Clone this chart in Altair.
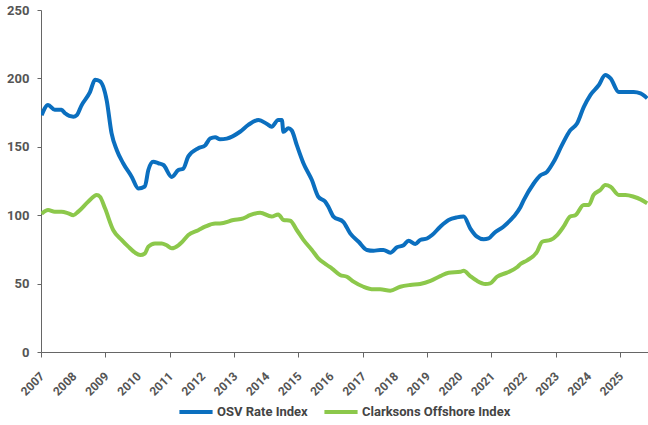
import altair as alt
import pandas as pd

# OSV Rate Index
osv_dates = [
    "2007-01-08", "2007-03-22", "2007-06-06", "2007-08-22", "2007-10-01",
    "2008-01-04", "2008-02-10", "2008-04-07", "2008-07-10", "2008-09-06",
    "2008-11-01", "2009-01-16", "2009-03-12", "2009-05-10", "2009-07-22",
    "2009-10-28", "2010-01-10", "2010-03-25", "2010-05-04", "2010-06-28",
    "2010-08-25", "2010-10-22", "2011-01-25", "2011-04-10", "2011-06-04",
    "2011-08-01", "2011-11-22", "2012-02-07", "2012-04-04", "2012-06-01",
    "2012-07-25", "2012-10-10", "2013-03-10", "2013-06-12", "2013-10-04",
    "2014-01-10", "2014-03-04", "2014-05-18", "2014-06-28", "2014-07-16",
    "2014-09-10", "2014-10-18", "2014-12-16", "2015-02-28", "2015-06-04",
    "2015-08-16", "2015-11-01", "2015-12-10", "2016-02-04", "2016-05-28",
    "2016-08-12", "2016-11-16", "2017-02-18", "2017-05-04", "2017-07-18",
    "2017-08-25", "2017-11-10", "2018-01-25", "2018-04-10", "2018-06-06",
    "2018-08-22", "2018-10-16", "2019-01-01", "2019-02-28", "2019-06-01",
    "2019-09-04", "2019-12-06", "2020-02-22", "2020-05-06", "2020-07-22",
    "2020-10-06", "2020-12-01", "2021-01-28", "2021-05-18", "2021-09-12",
    "2021-11-28", "2022-01-04", "2022-04-25", "2022-07-10", "2022-09-25",
    "2022-12-10", "2023-03-12", "2023-06-15", "2023-09-01", "2023-11-16",
    "2024-02-01", "2024-05-04", "2024-07-18", "2024-09-16", "2024-12-18",
    "2025-03-04", "2025-06-06", "2025-08-22", "2025-11-06",
]
osv_values = [
    173, 180.5, 177, 177, 174.5,
    172, 173, 180.5, 190, 199,
    198, 184, 160, 147.7, 138,
    128, 119.6, 121, 133, 139,
    138, 136.7, 128, 133, 134,
    143, 149, 151, 156, 157,
    155.5, 156, 161, 166, 169.6,
    166.7, 164.7, 169.6, 169.6, 161,
    163.5, 162, 151, 138, 125.7,
    113.5, 110, 106, 99, 95,
    86.7, 80.6, 74.6, 74, 74.6,
    74.6, 72.6, 76.5, 78, 81.4,
    79, 81.9, 83, 85.5, 91.6,
    96.5, 98.4, 99, 90.4, 84.3,
    82.4, 83, 86.7, 91.6, 99,
    106, 111, 123, 129, 131.7,
    139, 151, 162, 167, 179,
    188, 195, 202.5, 200, 190,
    190, 190, 189, 185.4,
]

# Clarksons Offshore Index
cok_dates = [
    "2007-01-08", "2007-03-22", "2007-06-06", "2007-08-22", "2007-11-06",
    "2008-01-04", "2008-02-28", "2008-06-22", "2008-09-25", "2008-11-01",
    "2008-12-28", "2009-04-01", "2009-07-04", "2009-09-18", "2009-12-04",
    "2010-02-01", "2010-03-25", "2010-05-04", "2010-07-18", "2010-10-04",
    "2010-11-28", "2011-01-25", "2011-04-10", "2011-05-16", "2011-08-01",
    "2011-11-22", "2012-02-07", "2012-06-01", "2012-07-25", "2012-12-25",
    "2013-04-16", "2013-07-01", "2013-10-25", "2014-03-04", "2014-05-18",
    "2014-07-16", "2014-10-01", "2014-12-16", "2015-02-28", "2015-06-04",
    "2015-08-16", "2015-11-22", "2016-01-19", "2016-04-19", "2016-07-06",
    "2016-09-19", "2017-01-10", "2017-05-04", "2017-07-18", "2017-11-10",
    "2018-03-04", "2018-06-25", "2018-10-16", "2019-02-10", "2019-06-01",
    "2019-09-04", "2020-01-16", "2020-02-22", "2020-05-06", "2020-07-22",
    "2020-10-25", "2020-12-19", "2021-03-06", "2021-06-28", "2021-10-19",
    "2021-11-28", "2022-02-12", "2022-06-04", "2022-08-01", "2022-11-04",
    "2023-01-18", "2023-04-01", "2023-06-15", "2023-08-13", "2023-11-16",
    "2024-01-13", "2024-03-07", "2024-05-22", "2024-07-18", "2024-09-16",
    "2024-12-18", "2025-03-04", "2025-06-06", "2025-08-22", "2025-11-06",
]
cok_values = [
    101, 103.8, 102.6, 102.6, 101.4,
    100, 102.6, 110, 114.8, 113.5,
    105, 89, 82, 77, 72.6,
    70.9, 72, 77, 79.4, 79.4,
    78, 75.8, 78, 80, 85.5,
    89, 91.6, 94, 94, 96.5,
    97.7, 100, 101.8, 99, 100.6,
    96.5, 96, 89, 82, 74.6,
    68.5, 63.6, 61, 56.3, 55,
    51.4, 47.7, 45.8, 45.8, 44.8,
    47.7, 49, 49.7, 52, 55.5,
    58, 58.7, 59.4, 55.5, 52,
    49.7, 50.2, 55, 58, 61.9,
    64.3, 67, 73.3, 80.6, 81.9,
    85.5, 91.6, 99, 100, 107.5,
    107.5, 114.8, 118.4, 122, 120.8,
    114.8, 114.8, 113.5, 111.6, 108.7,
]

# Year ticks along the time axis
year_ticks = [f"{y}-01-01" for y in range(2007, 2026)]

series_names = ["OSV Rate Index", "Clarksons Offshore Index"]
series_colors = ["#0b6fbf", "#8cc84b"]

df = pd.concat([
    pd.DataFrame({"date": osv_dates, "value": osv_values, "series": series_names[0]}),
    pd.DataFrame({"date": cok_dates, "value": cok_values, "series": series_names[1]}),
])
ticks_df = pd.DataFrame({"date": year_ticks, "label": [t[:4] for t in year_ticks]})

font = "Roboto"
axis_color = "#666666"
label_color = "#555555"

x_scale = alt.Scale(domain=["2007-01-01", "2025-11-15"])

lines = (
    alt.Chart(df)
    .mark_line(strokeWidth=4, interpolate="monotone", clip=True)
    .encode(
        x=alt.X(
            "date:T",
            scale=x_scale,
            axis=alt.Axis(
                title=None,
                values=year_ticks,
                labels=False,
                domainColor=axis_color,
                tickColor=axis_color,
                tickSize=5,
                grid=False,
            ),
        ),
        y=alt.Y(
            "value:Q",
            scale=alt.Scale(domain=[0, 250], nice=False),
            axis=alt.Axis(
                title=None,
                values=[0, 50, 100, 150, 200, 250],
                labelFont=font,
                labelFontSize=13,
                labelFontWeight="bold",
                labelColor=label_color,
                labelPadding=8,
                domainColor=axis_color,
                tickColor=axis_color,
                tickSize=4,
                grid=False,
            ),
        ),
        color=alt.Color(
            "series:N",
            scale=alt.Scale(domain=series_names, range=series_colors),
            sort=series_names,
            legend=alt.Legend(
                title=None,
                orient="none",
                legendX=136,
                legendY=383,
                direction="horizontal",
                symbolType="stroke",
                symbolSize=1100,
                symbolStrokeWidth=4,
                labelFont=font,
                labelFontSize=13,
                labelFontWeight="bold",
                labelColor="#444444",
                labelOffset=2,
                columnPadding=8,
            ),
        ),
    )
)

# Diagonal year labels hung under each tick
year_labels = (
    alt.Chart(ticks_df)
    .mark_text(
        angle=315,
        align="right",
        baseline="middle",
        font=font,
        fontSize=12,
        fontWeight="bold",
        color=label_color,
        dx=-2,
        dy=4,
    )
    .encode(
        x=alt.X("date:T", scale=x_scale),
        y=alt.value(360),
        text="label:N",
    )
)

chart = (
    alt.layer(lines, year_labels)
    .properties(width=607, height=342)
    .configure(
        autosize=alt.AutoSizeParams(type="none"),
        padding={"left": 41, "top": 10, "right": 0, "bottom": 73},
    )
    .configure_view(stroke=None)
)

chart.save("out.html", embed_options={"renderer": "svg", "actions": False})
